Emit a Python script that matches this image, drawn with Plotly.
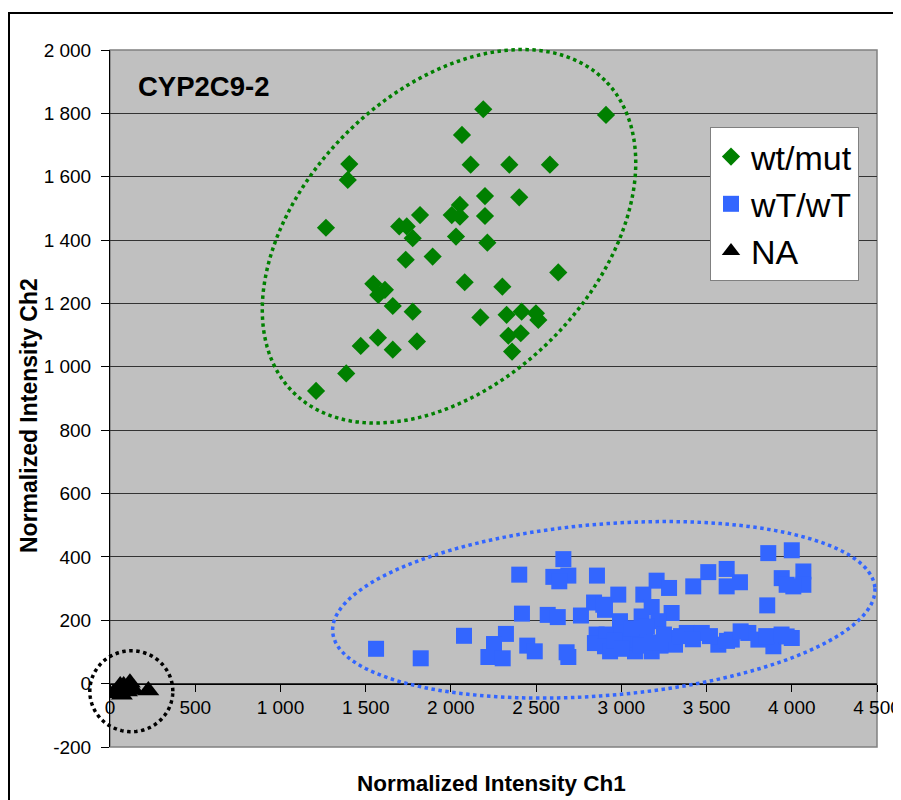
import numpy as np
import plotly.graph_objects as go

# ---------------- data ----------------
wtmut_x = [2190, 2910, 2065, 1404, 2116, 2343, 2581, 1395, 2200, 2401, 2053, 1819, 2005, 2053, 2200,
           1267, 1697, 1741, 1776, 2030, 2214, 1735, 1893, 2630, 2081, 1545, 2302, 1613, 1574, 1659,
           1776, 2173, 2327, 2415, 2499, 2513, 2337, 2410, 1572, 1471, 1659, 1801, 2359, 1386, 1209]
wtmut_y = [1813, 1795, 1732, 1640, 1638, 1638, 1638, 1590, 1539, 1535, 1511, 1479, 1479, 1474, 1476,
           1439, 1443, 1443, 1406, 1411, 1392, 1338, 1348, 1298, 1267, 1262, 1253, 1243, 1227, 1192,
           1174, 1156, 1164, 1174, 1169, 1148, 1098, 1106, 1092, 1066, 1054, 1080, 1048, 979, 924]

wtwt_x = [1561, 1823, 2077, 2323, 2253, 2220, 2304, 2448, 2492, 2679, 2689, 2401, 2660, 2601, 2689,
          2636, 2417, 2568, 2627, 2763, 2857, 2840, 2855, 2845,
          3862, 4000, 3941, 4068, 3970, 4068, 4009, 3856, 3510, 3618, 3618, 3696, 3422, 3207, 3280,
          2982, 3129, 3178, 3295, 3119, 2992, 3217, 2894, 2904,
          2914, 2904, 3002, 3080, 3178, 3139, 3295, 3315, 3384, 3472, 3569, 3648, 3745, 3804, 3892,
          3970, 4000, 2934,
          3040, 3100, 3230, 3250, 2960, 3060, 3150, 3350, 3420, 3520, 3620, 3700, 3850, 3940, 3000,
          3110, 3180]
wtwt_y = [110, 80, 151, 157, 125, 84, 80, 120, 102, 99, 84, 344, 393, 337, 341,
          323, 221, 217, 210, 215, 341, 256, 155, 128,
          412, 421, 333, 354, 312, 312, 307, 247, 352, 362, 307, 320, 307, 325, 302,
          281, 281, 242, 223, 212, 197, 197, 249, 233,
          155, 118, 160, 102, 102, 155, 144, 123, 160, 160, 123, 139, 160, 139, 118,
          149, 144, 102,
          130, 140, 120, 155, 135, 175, 180, 150, 140, 150, 135, 165, 150, 155, 110,
          120, 130]

na_x = [20, 45, 60, 80, 117, 100, 140, 70, 225]
na_y = [-30, -25, -6, -6, 3, -25, -20, -35, -22]

series_names = ["wt/mut", "wT/wT", "NA"]

x_tick_vals = [0, 500, 1000, 1500, 2000, 2500, 3000, 3500, 4000, 4500]
x_tick_text = ["0", "500", "1 000", "1 500", "2 000", "2 500", "3 000", "3 500", "4 000", "4 500"]
y_tick_vals = [-200, 0, 200, 400, 600, 800, 1000, 1200, 1400, 1600, 1800, 2000]
y_tick_text = ["-200", "0", "200", "400", "600", "800", "1 000", "1 200", "1 400", "1 600", "1 800", "2 000"]

# ---------------- layout geometry ----------------
OFF = 8                      # default page (body) margin of the browser
PAGE_W, PAGE_H = 901, 800
W, H = PAGE_W - OFF, PAGE_H - OFF
# plot area in page pixels: x 110..877, y 50..747
ML = 110 - OFF
MT = 50 - OFF
MR = (OFF + W) - 877
MB = (OFF + H) - 747
XR = (0, 4500)
YR = (-200, 2000)
PW = W - ML - MR
PH = H - MT - MB
FONT = "Liberation Sans, Arial, sans-serif"


def px_to_paper(px, py):
    """page pixel -> paper coordinates"""
    return (px - OFF - ML) / PW, (H - MB - (py - OFF)) / PH


def ellipse_path(cx, cy, a, b, ang_deg, n=160):
    """Ellipse centred at data (cx, cy), semi-axes a, b in pixels, rotated ang_deg (counter-clockwise)."""
    cxp = (cx - XR[0]) / (XR[1] - XR[0]) * PW
    cyp = (cy - YR[0]) / (YR[1] - YR[0]) * PH
    t = np.linspace(0, 2 * np.pi, n, endpoint=False)
    th = np.radians(ang_deg)
    xs = (cxp + a * np.cos(t) * np.cos(th) - b * np.sin(t) * np.sin(th)) / PW
    ys = (cyp + a * np.cos(t) * np.sin(th) + b * np.sin(t) * np.cos(th)) / PH
    return "M " + " L ".join(f"{x:.5f},{y:.5f}" for x, y in zip(xs, ys)) + " Z"


fig = go.Figure()
fig.add_trace(go.Scatter(x=wtmut_x, y=wtmut_y, mode="markers", name=series_names[0],
                         legendgroup="a",
                         marker=dict(symbol="diamond", size=14, color="#008000", line=dict(width=0))))
fig.add_trace(go.Scatter(x=wtwt_x, y=wtwt_y, mode="markers", name=series_names[1],
                         legendgroup="b",
                         marker=dict(symbol="square", size=16, color="#3366FF", line=dict(width=0))))
fig.add_trace(go.Scatter(x=na_x, y=na_y, mode="markers", name=series_names[2],
                         legendgroup="c",
                         marker=dict(symbol="triangle-up", size=19, color="black", line=dict(width=0))))

dot = "3.5px,3.5px"
fx0, fy0 = px_to_paper(9, 13)
fx1, fy1 = px_to_paper(930, 830)
shapes = [
    dict(type="rect", xref="paper", yref="paper", x0=0, y0=0, x1=1, y1=1,
         line=dict(color="#808080", width=1.5), layer="below"),
    dict(type="path", xref="paper", yref="paper", path=ellipse_path(1989, 1412, 220.5, 145.4, 45),
         line=dict(color="#008000", width=3.5, dash=dot)),
    dict(type="path", xref="paper", yref="paper", path=ellipse_path(2897, 233, 272, 85.7, 4.7),
         line=dict(color="#3366FF", width=3.5, dash=dot)),
    dict(type="path", xref="paper", yref="paper", path=ellipse_path(125, -24, 41.5, 40.5, 0),
         line=dict(color="black", width=3.5, dash=dot)),
    dict(type="rect", xref="paper", yref="paper", x0=fx0, y0=fy0, x1=fx1, y1=fy1,
         line=dict(color="black", width=2)),
]

ytx, yty = px_to_paper(29, 416)
xtx, xty = px_to_paper(491, 784)
ctx, cty = px_to_paper(136, 86)
annotations = [
    dict(text="<b>Normalized Intensity Ch2</b>", xref="paper", yref="paper", x=ytx, y=yty,
         textangle=-90, showarrow=False, font=dict(family=FONT, size=23, color="black"),
         xanchor="center", yanchor="middle"),
    dict(text="<b>Normalized Intensity Ch1</b>", xref="paper", yref="paper", x=xtx, y=xty,
         showarrow=False, font=dict(family=FONT, size=22.5, color="black"),
         xanchor="center", yanchor="middle"),
    dict(text="<b>CYP2C9-2</b>", xref="paper", yref="paper", x=ctx, y=cty,
         showarrow=False, font=dict(family=FONT, size=27.5, color="black"),
         xanchor="left", yanchor="middle"),
]

lgx, lgy = px_to_paper(710, 127)
fig.update_layout(
    width=W, height=H,
    autosize=False,
    margin=dict(l=ML, r=MR, t=MT, b=MB, pad=0, autoexpand=False),
    paper_bgcolor="white",
    plot_bgcolor="#C0C0C0",
    font=dict(family=FONT, size=19, color="black"),
    showlegend=True,
    legend=dict(x=lgx, y=lgy, xanchor="left", yanchor="top", bgcolor="white",
                bordercolor="#808080", borderwidth=1, font=dict(family=FONT, size=34, color="black"),
                traceorder="grouped", tracegroupgap=0),
    shapes=shapes,
    annotations=annotations,
    xaxis=dict(range=list(XR), tickmode="array", tickvals=x_tick_vals, ticktext=x_tick_text,
               showgrid=False, zeroline=False, showline=True, linecolor="black", linewidth=1,
               ticks="outside", ticklen=7, tickcolor="black", tickwidth=1,
               anchor="free", position=(0 - YR[0]) / (YR[1] - YR[0]), automargin=False,
               tickfont=dict(family=FONT, size=19, color="black")),
    yaxis=dict(range=list(YR), tickmode="array", tickvals=y_tick_vals, ticktext=y_tick_text,
               showgrid=True, gridcolor="#333333", gridwidth=1, zeroline=False,
               showline=True, linecolor="black", linewidth=1, automargin=False,
               ticks="outside", ticklen=8, tickcolor="black", tickwidth=1,
               ticklabelstandoff=6,
               tickfont=dict(family=FONT, size=19, color="black")),
)

fig.write_html("out.html")
